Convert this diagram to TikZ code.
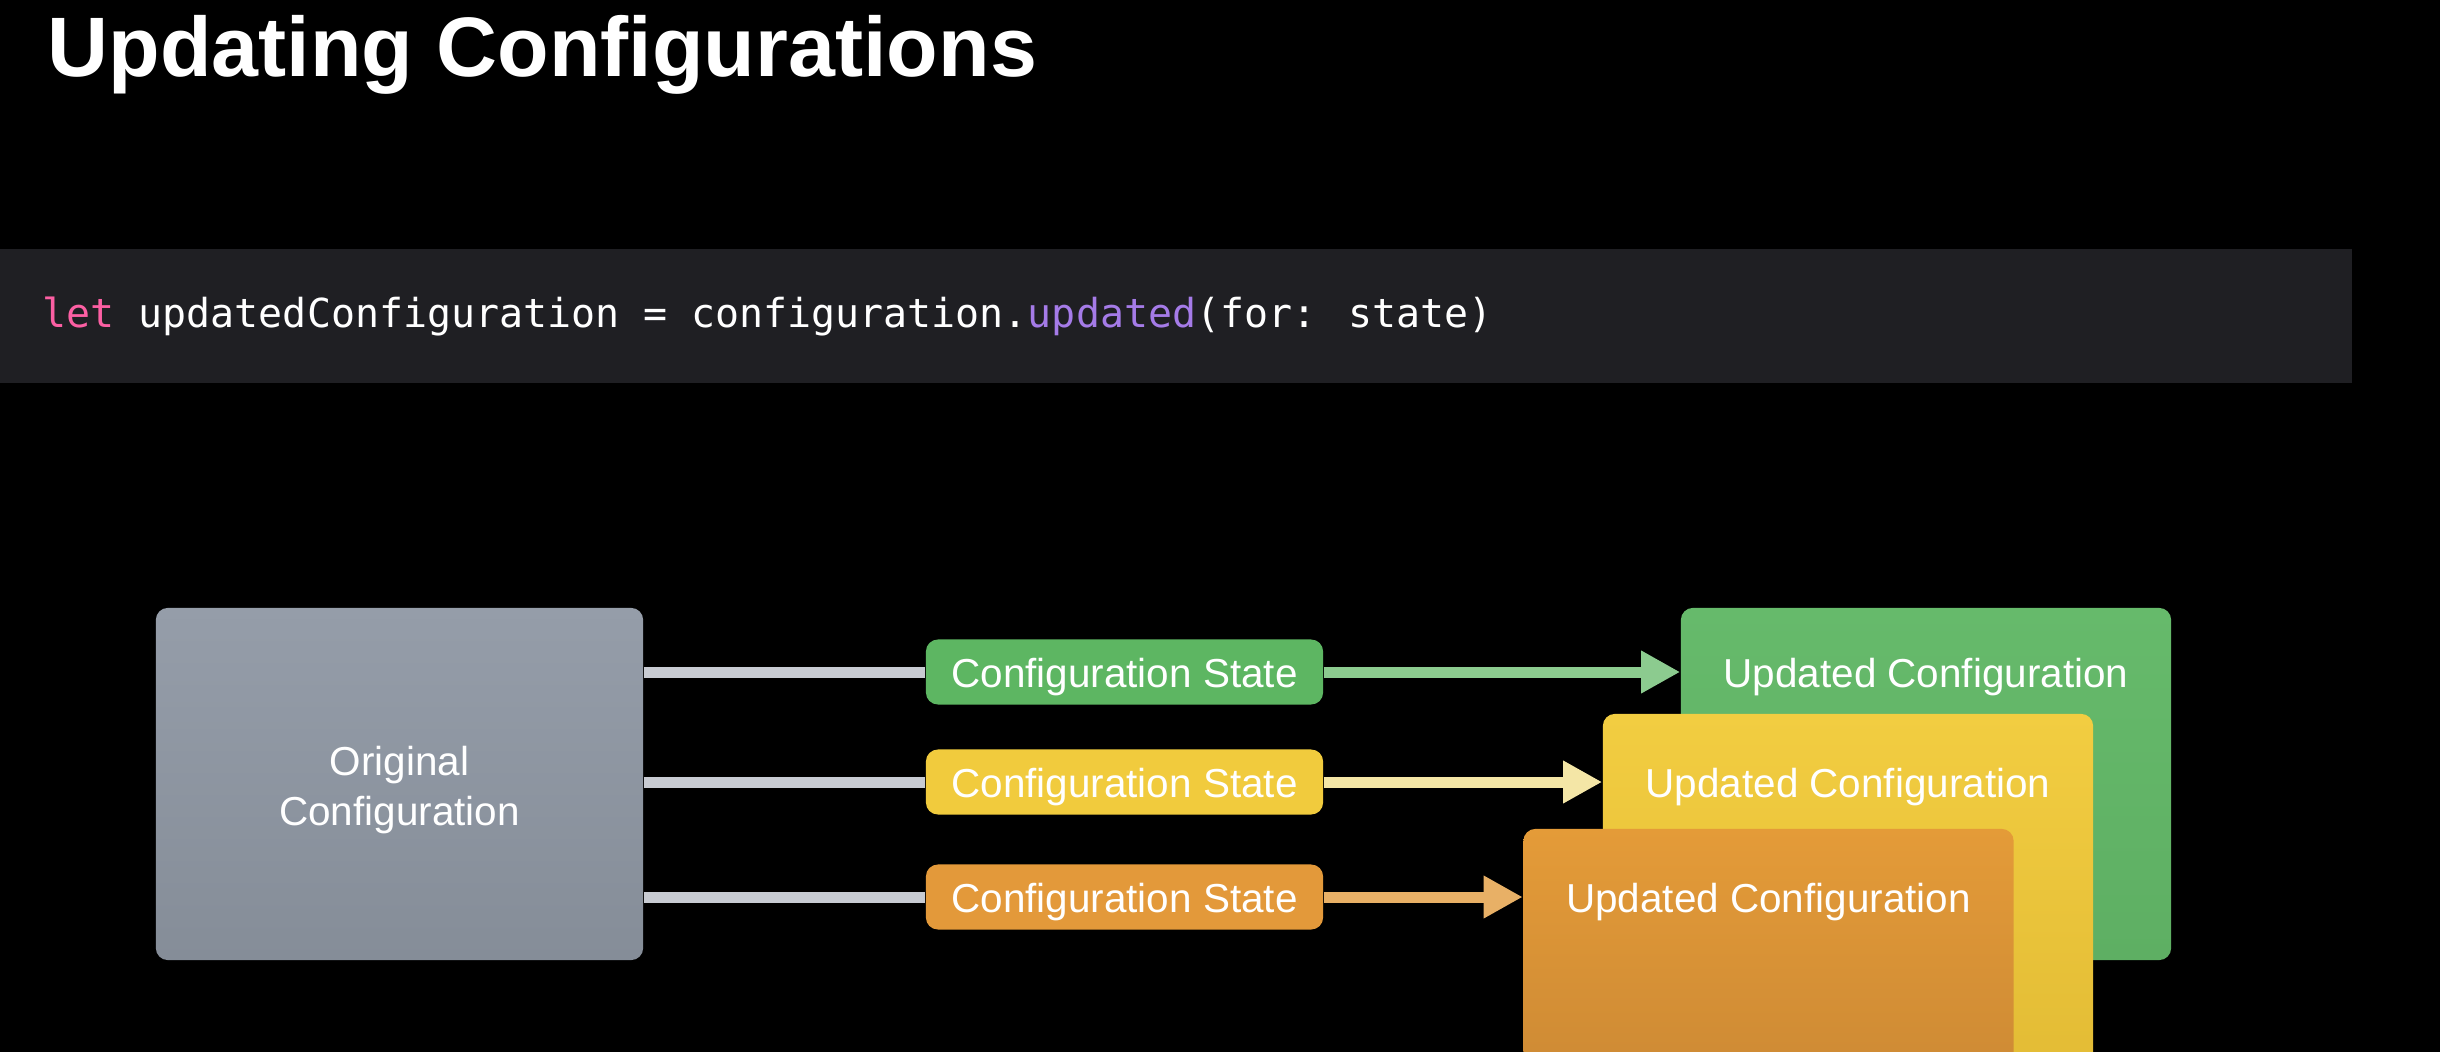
\documentclass[tikz,border=0pt]{standalone}
\usepackage{fontspec}
\setmainfont{Liberation Sans}
\newfontfamily\codefont{DejaVu Sans Mono}
\usepackage{xcolor}
\usetikzlibrary{positioning,calc,arrows.meta}

\definecolor{codebg}{HTML}{1F1F23}
\definecolor{kwpink}{HTML}{FC5FA3}
\definecolor{fnpurple}{HTML}{A57BE8}
\definecolor{feedgray}{HTML}{C8CBD2}
\definecolor{stgreen}{HTML}{5DB662}
\definecolor{styellow}{HTML}{F1CB3D}
\definecolor{storange}{HTML}{E3993A}
\definecolor{argreen}{HTML}{8CCB8F}
\definecolor{aryellow}{HTML}{F4E6A6}
\definecolor{arorange}{HTML}{E8B066}
\definecolor{graytop}{HTML}{959DA9}
\definecolor{graybot}{HTML}{858D98}
\definecolor{greentop}{HTML}{66BA6B}
\definecolor{greenbot}{HTML}{5EAF63}
\definecolor{yellowtop}{HTML}{F2CD41}
\definecolor{yellowbot}{HTML}{E3BC35}
\definecolor{orangetop}{HTML}{E49B38}
\definecolor{orangebot}{HTML}{C48333}

\begin{document}
\begin{tikzpicture}[x=0.01cm, y=-0.01cm,
    card/.style={rounded corners=0.12cm, minimum width=4.9cm, minimum height=3.52cm, inner sep=0pt},
    statebox/.style={rounded corners=0.12cm, minimum width=3.97cm, minimum height=0.65cm, inner sep=0pt, text=white, text height=0.38cm, text depth=0.08cm, font=\fontsize{11.5}{14}\selectfont},
    lbl/.style={text=white, font=\fontsize{11.5}{14}\selectfont, inner sep=0pt},
    feed/.style={line width=0.11cm, draw=feedgray},
    upd/.style={line width=0.11cm, -{Triangle[length=0.39cm,width=0.40cm]}}]
    \useasboundingbox (0,0) rectangle (2440,1052);
    \clip (0,0) rectangle (2440,1052);
    \fill [black] (0,0) rectangle (2440,1052); % slide background

    \node [anchor=base west, inner sep=0pt, text=white, font=\fontsize{24}{28}\selectfont\bfseries] (title) at (47,77) {Updating Configurations};

    \fill [codebg] (0,249) rectangle (2352,383); % code bar
    \node [anchor=base west, inner sep=0pt, text=white, font=\codefont\fontsize{11.35}{14}\selectfont] (code) at (42,328)
        {\textcolor{kwpink}{let} updatedConfiguration = configuration.\textcolor{fnpurple}{updated}(for: state)};

    \node [card, minimum width=4.87cm, top color=graytop, bottom color=graybot] (orig) at (399.5,784) {};
    \node [lbl, align=center] (origtxt) at ($(orig)+(0,6)$) {Original\\Configuration};

    \node [statebox, fill=stgreen] (stG) at (1124.5,672) {Configuration State};
    \node [statebox, fill=styellow] (stY) at (1124.5,782) {Configuration State};
    \node [statebox, fill=storange] (stO) at (1124.5,897) {Configuration State};

    \draw [feed] (orig.east |- stG) -- (stG.west);
    \draw [feed] (orig.east |- stY) -- (stY.west);
    \draw [feed] (orig.east |- stO) -- (stO.west);

    % stacked results, front one last
    \node [card, top color=greentop, bottom color=greenbot] (upG) at (1926,784) {};
    \node [lbl, text height=0.38cm, text depth=0.08cm] (upGtxt) at (upG |- stG) {Updated Configuration};
    \node [card, top color=yellowtop, bottom color=yellowbot] (upY) at (1848,890) {};
    \node [lbl, text height=0.38cm, text depth=0.08cm] (upYtxt) at (upY |- stY) {Updated Configuration};
    \node [card, top color=orangetop, bottom color=orangebot] (upO) at (1768.5,1005) {};
    \node [lbl, text height=0.38cm, text depth=0.08cm] (upOtxt) at (upO |- stO) {Updated Configuration};

    \draw [upd, draw=argreen] (stG.east) -- (stG -| upG.west);
    \draw [upd, draw=aryellow] (stY.east) -- (stY -| upY.west);
    \draw [upd, draw=arorange] (stO.east) -- (stO -| upO.west);
\end{tikzpicture}
\end{document}
